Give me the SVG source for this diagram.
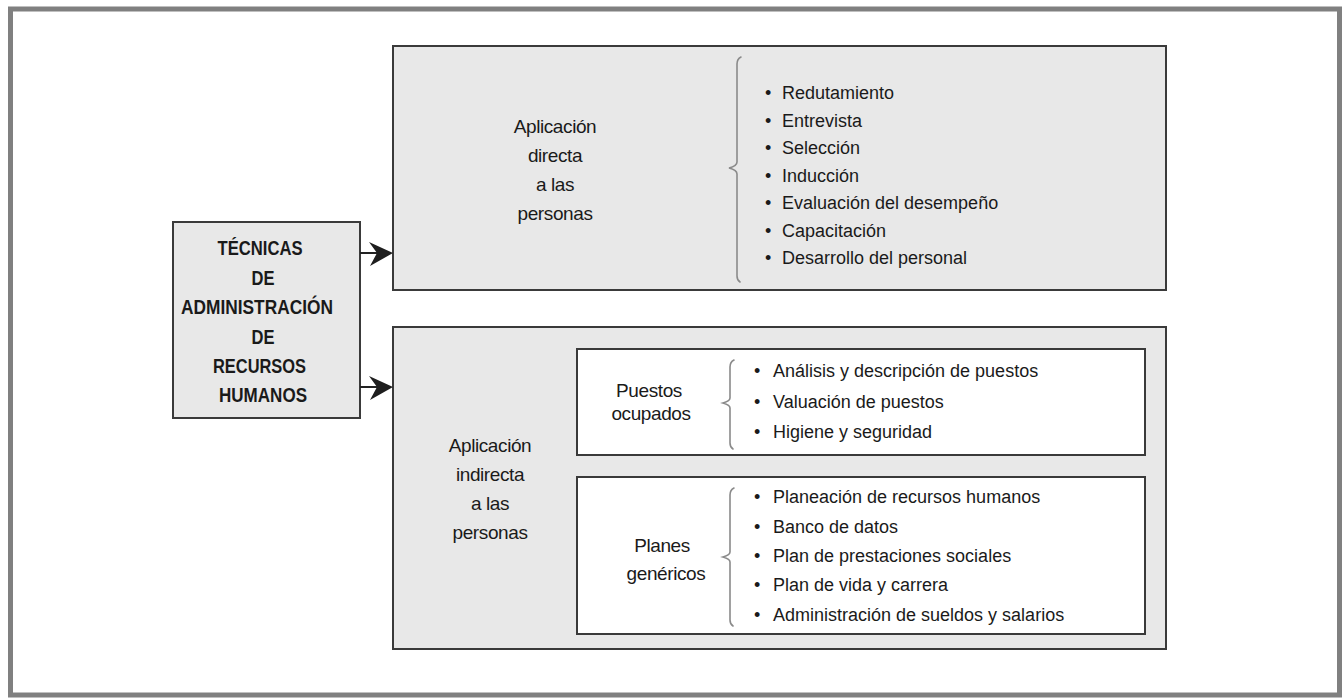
<svg xmlns="http://www.w3.org/2000/svg" width="1342" height="698" viewBox="0 0 1342 698">
  <defs>
    <style>
      .frame { fill: #ffffff; stroke: #808080; stroke-width: 5; }
      .box { fill: #e8e8e8; stroke: #3a3a3a; stroke-width: 2; }
      .inner { fill: #ffffff; stroke: #3a3a3a; stroke-width: 2; }
      .title { font-family: "Liberation Sans", Arial, sans-serif; font-weight: bold; font-size: 19.5px; fill: #1a1a1a; text-anchor: middle; }
      .label { font-family: "Liberation Sans", Arial, sans-serif; font-size: 19px; fill: #1a1a1a; text-anchor: middle; letter-spacing: -0.4px; }
      .item { font-family: "Liberation Sans", Arial, sans-serif; font-size: 18px; fill: #1a1a1a; }
      .brace { fill: none; stroke: #8a8a8a; stroke-width: 1.6; stroke-linecap: round; }
      .link { stroke: #222222; stroke-width: 2; fill: none; }
      .head { fill: #1e1e1e; stroke: none; }
    </style>
  </defs>

  <!-- page frame -->
  <rect class="frame" x="10.5" y="9" width="1329" height="686"/>

  <!-- root node -->
  <g id="tecnicas">
    <rect class="box" x="173" y="222" width="187" height="196"/>
    <text class="title" x="260" y="255" textLength="85" lengthAdjust="spacingAndGlyphs">TÉCNICAS</text>
    <text class="title" x="263" y="285" textLength="23" lengthAdjust="spacingAndGlyphs">DE</text>
    <text class="title" x="257" y="314" textLength="152" lengthAdjust="spacingAndGlyphs">ADMINISTRACIÓN</text>
    <text class="title" x="263" y="344" textLength="23" lengthAdjust="spacingAndGlyphs">DE</text>
    <text class="title" x="259.5" y="373" textLength="93" lengthAdjust="spacingAndGlyphs">RECURSOS</text>
    <text class="title" x="263" y="402" textLength="88" lengthAdjust="spacingAndGlyphs">HUMANOS</text>
  </g>

  <!-- direct application -->
  <g id="aplicacion-directa">
    <rect class="box" x="393" y="46" width="773" height="244"/>
    <text class="label" x="555" y="133">Aplicación</text>
    <text class="label" x="555" y="162">directa</text>
    <text class="label" x="555" y="191">a las</text>
    <text class="label" x="555" y="220">personas</text>
    <path class="brace" d="M741 57 Q737 59 737 64 L737 162 Q737 166 729 168 Q737 170 737 174 L737 276 Q737 280 740 282"/>
    <g class="item">
      <text x="765" y="99">•<tspan x="782">Redutamiento</tspan></text>
      <text x="765" y="126.5">•<tspan x="782">Entrevista</tspan></text>
      <text x="765" y="154">•<tspan x="782">Selección</tspan></text>
      <text x="765" y="181.5">•<tspan x="782">Inducción</tspan></text>
      <text x="765" y="209">•<tspan x="782">Evaluación del desempeño</tspan></text>
      <text x="765" y="236.5">•<tspan x="782">Capacitación</tspan></text>
      <text x="765" y="264">•<tspan x="782">Desarrollo del personal</tspan></text>
    </g>
  </g>

  <!-- indirect application -->
  <g id="aplicacion-indirecta">
    <rect class="box" x="393" y="327" width="773" height="322"/>
    <text class="label" x="490" y="452">Aplicación</text>
    <text class="label" x="490" y="481">indirecta</text>
    <text class="label" x="490" y="510">a las</text>
    <text class="label" x="490" y="539">personas</text>
  </g>

  <g id="puestos-ocupados">
    <rect class="inner" x="577" y="349" width="568" height="106"/>
    <text class="label" x="649" y="397">Puestos</text>
    <text class="label" x="651" y="420">ocupados</text>
    <path class="brace" d="M734 360 Q730 362 730 367 L730 398 Q730 401 723 403 Q730 405 730 408 L730 443 Q730 447 733 449"/>
    <g class="item">
      <text x="754" y="377">•<tspan x="773">Análisis y descripción de puestos</tspan></text>
      <text x="754" y="408">•<tspan x="773">Valuación de puestos</tspan></text>
      <text x="754" y="438">•<tspan x="773">Higiene y seguridad</tspan></text>
    </g>
  </g>

  <g id="planes-genericos">
    <rect class="inner" x="577" y="477" width="568" height="157"/>
    <text class="label" x="662" y="552">Planes</text>
    <text class="label" x="666" y="580">genéricos</text>
    <path class="brace" d="M734 488 Q730 490 730 495 L730 552 Q730 555 723 557 Q730 559 730 562 L730 620 Q730 624 733 626"/>
    <g class="item">
      <text x="754" y="503">•<tspan x="773">Planeación de recursos humanos</tspan></text>
      <text x="754" y="533">•<tspan x="773">Banco de datos</tspan></text>
      <text x="754" y="562">•<tspan x="773">Plan de prestaciones sociales</tspan></text>
      <text x="754" y="591">•<tspan x="773">Plan de vida y carrera</tspan></text>
      <text x="754" y="621">•<tspan x="773">Administración de sueldos y salarios</tspan></text>
    </g>
  </g>

  <!-- connectors -->
  <g id="connectors">
    <line class="link" x1="360" y1="253" x2="380" y2="253"/>
    <path class="head" d="M393 253 L369 242 L377 253 L370 266 Z"/>
    <line class="link" x1="360" y1="387" x2="380" y2="387"/>
    <path class="head" d="M393 387 L369 376 L377 387 L370 400 Z"/>
  </g>
</svg>
